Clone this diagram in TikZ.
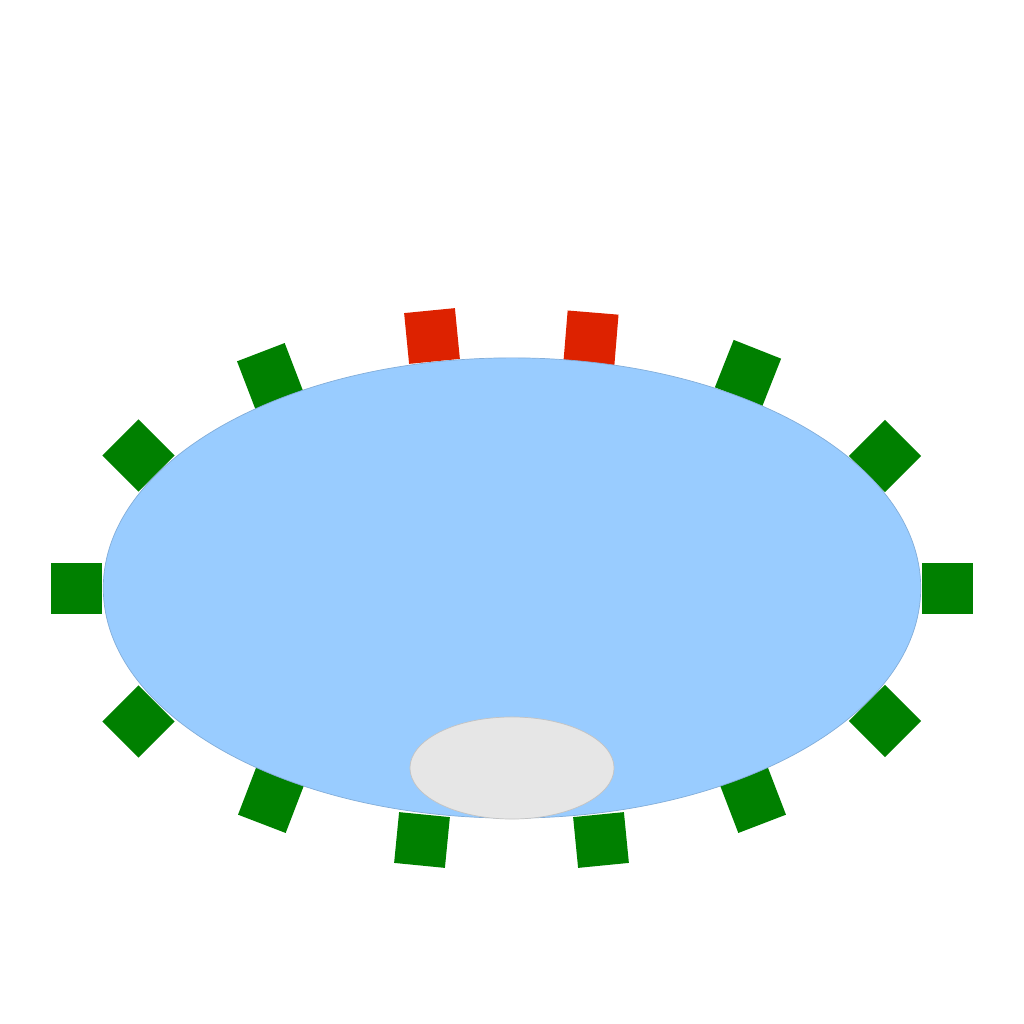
\documentclass[tikz,border=0pt]{standalone}
\usepackage{tikz}
\usetikzlibrary{shapes.geometric}
\definecolor{tableblue}{RGB}{153,204,255}
\definecolor{chairgreen}{RGB}{0,128,0}
\definecolor{chairred}{RGB}{221,34,0}
\definecolor{plategray}{RGB}{230,230,230}

\begin{document}
\begin{tikzpicture}[x=0.01cm,y=-0.01cm,
  chair/.style={fill=chairgreen,inner sep=0pt,minimum size=0.51cm},
  redchair/.style={chair,fill=chairred}]
\useasboundingbox (0,0) rectangle (1024,1024);

% Chairs
\node[redchair,rotate=5.6] (c1) at (432,336) {};
\node[redchair,rotate=-4.7] (c2) at (591,338) {};
\node[chair,rotate=21] (c3) at (270,376) {};
\node[chair,rotate=-21.6] (c4) at (748,373) {};
\node[chair,rotate=45] (c5) at (138.5,455.5) {};
\node[chair,rotate=-45] (c6) at (885,456) {};
\node[chair] (c7) at (76.5,588.5) {};
\node[chair] (c8) at (947.5,588.5) {};
\node[chair,rotate=-45] (c9) at (138.5,721.5) {};
\node[chair,rotate=45] (c10) at (885,721) {};
\node[chair,rotate=-21] (c11) at (271,800) {};
\node[chair,rotate=21] (c12) at (753,800) {};
\node[chair,rotate=-5.6] (c13) at (422,840) {};
\node[chair,rotate=5.6] (c14) at (601,840) {};

% Table
\node[ellipse,fill=tableblue,draw=tableblue!85!black,line width=0.2pt,
  inner sep=0pt,minimum width=8.17cm,minimum height=4.6cm] (table) at (512,588) {};

% Plate
\node[ellipse,fill=plategray,draw=plategray!85!black,line width=0.2pt,
  inner sep=0pt,minimum width=2.04cm,minimum height=1.02cm] (plate) at (512,768) {};
\end{tikzpicture}
\end{document}
